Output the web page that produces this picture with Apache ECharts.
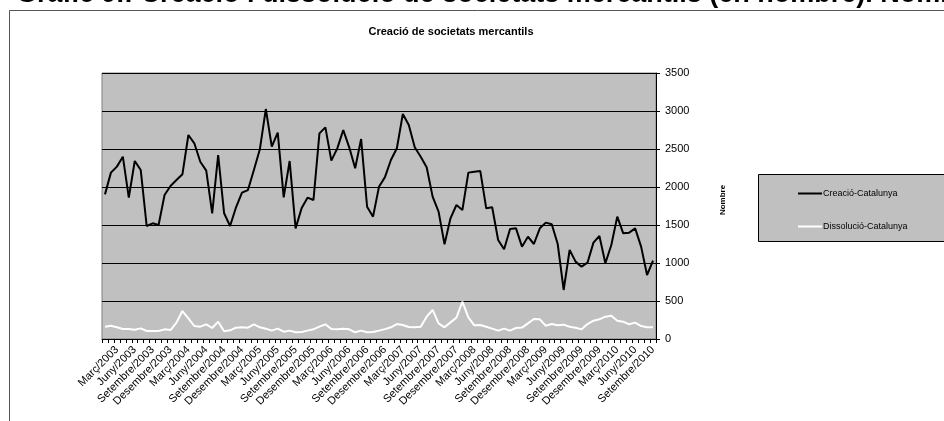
<!DOCTYPE html>
<html>
<head>
<meta charset="utf-8">
<script src="https://cdn.jsdelivr.net/npm/echarts@6/dist/echarts.min.js"></script>
<style>
html,body{margin:0;padding:0;background:#fff;}
#c{width:944px;height:421px;}
</style>
</head>
<body>
<div id="c"></div>
<script>
const monthNames = ['Gener','Febrer','Març','Abril','Maig','Juny','Juliol','Agost','Setembre','Octubre','Novembre','Desembre'];
const years = [2003,2004,2005,2006,2007,2008,2009,2010];
const lastMonthIndex = 8; // Setembre/2010
const categories = [];
years.forEach(y => monthNames.forEach((m, i) => {
  if (y < 2010 || i <= lastMonthIndex) categories.push(m + '/' + y);
}));

const creacio = [1903,2189,2268,2399,1860,2342,2224,1487,1522,1500,
  1895,2013,2092,2167,2684,2575,2333,2215,1654,2421,
  1654,1487,1733,1925,1960,2224,2496,3026,2531,2715,
  1864,2342,1456,1719,1860,1829,2706,2785,2347,2509,
  2750,2522,2246,2632,1741,1610,2004,2130,2355,2509,
  2961,2816,2522,2399,2259,1873,1676,1246,1588,1763,
  1697,2189,2202,2211,1719,1733,1303,1180,1447,1456,
  1215,1346,1250,1456,1531,1509,1250,645,1171,1018,
  952,1004,1268,1355,996,1237,1610,1390,1399,1456,
  1215,842,1031];

const dissolucio = [162,175,154,132,132,123,140,105,105,105,
  127,118,215,368,272,171,162,193,145,228,
  101,114,149,154,149,193,154,136,110,136,
  96,110,88,92,110,127,162,193,132,127,
  136,127,88,110,88,92,110,130,154,197,
  184,158,154,162,294,382,206,154,219,281,
  491,285,180,184,162,136,110,136,110,145,
  150,206,263,259,175,197,180,189,162,149,
  127,197,241,259,294,307,241,228,193,215,
  171,154,154];

const seriesNames = ['Creació-Catalunya','Dissolució-Catalunya'];
const pageTitle = 'Gràfic 9.: Creació i dissolució de societats mercantils (en nombre). Nombre';
const chartTitle = 'Creació de societats mercantils';
const axisName = 'Nombre';

const chart = echarts.init(document.getElementById('c'), null, {renderer:'canvas'});
const F = 'Arial, "Liberation Sans", sans-serif';
chart.setOption({
  animation: false,
  backgroundColor: '#fff',
  graphic: [
    {type:'rect', shape:{x:9.5,y:10.5,width:1000,height:500}, style:{fill:'#fff', stroke:'#555', lineWidth:1}, z:-10},
    {type:'text', x:16, y:-5.5, style:{text:pageTitle, font:'bold 27px ' + F, fill:'#000', verticalAlign:'middle'}},
    {type:'text', x:451, y:32, style:{text:chartTitle, font:'bold 11px ' + F, fill:'#000', align:'center', verticalAlign:'middle'}},
    {type:'text', x:723, y:200, rotation:Math.PI/2, style:{text:axisName, font:'bold 8px ' + F, fill:'#000', align:'center', verticalAlign:'middle'}},
    {type:'rect', shape:{x:758.5,y:174.5,width:200,height:67}, style:{fill:'#c0c0c0', stroke:'#000', lineWidth:1}, z:1}
  ],
  legend: {
    orient:'vertical', left:793, top:184, itemWidth:24, itemHeight:2, itemGap:24, z:5, icon:'rect',
    textStyle:{fontFamily:F, fontSize:9, color:'#000', padding:[0,0,0,-4]},
    data: seriesNames
  },
  grid: {left:102, right:288, top:73, bottom:82, show:true, backgroundColor:'#c0c0c0', borderColor:'#808080', borderWidth:1},
  xAxis: {
    type:'category', data:categories, boundaryGap:true,
    axisLine:{lineStyle:{color:'#000', width:1}},
    axisTick:{show:true, interval:0, length:4, lineStyle:{color:'#000'}},
    axisLabel:{interval:(idx)=> idx % 3 === 2, rotate:45, fontFamily:F, fontSize:11, color:'#000', margin:9}
  },
  yAxis: {
    type:'value', position:'right', min:0, max:3500, interval:500,
    axisLine:{show:true, lineStyle:{color:'#000'}},
    axisTick:{show:true, length:4, lineStyle:{color:'#000'}},
    axisLabel:{fontFamily:F, fontSize:11, color:'#000', margin:9, formatter:(v)=> String(v)},
    splitLine:{show:true, lineStyle:{color:'#000', width:1}}
  },
  series: [
    {name:seriesNames[0], type:'line', data:creacio, symbol:'none', lineStyle:{color:'#000', width:2}, itemStyle:{color:'#000'}},
    {name:seriesNames[1], type:'line', data:dissolucio, symbol:'none', lineStyle:{color:'#fff', width:2}, itemStyle:{color:'#fff'}}
  ]
});
</script>
</body>
</html>
